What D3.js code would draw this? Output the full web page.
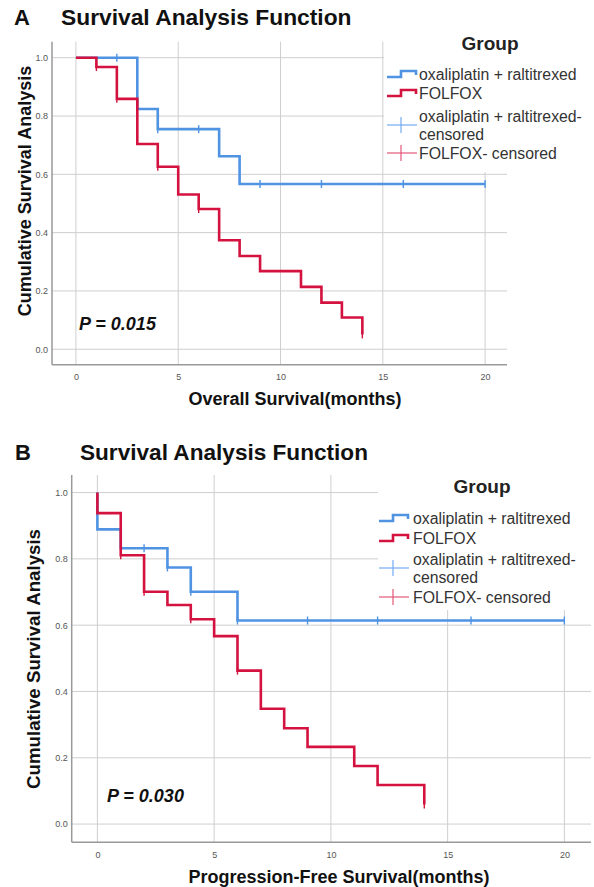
<!DOCTYPE html>
<html><head><meta charset="utf-8">
<script src="https://cdn.jsdelivr.net/npm/d3@7"></script>
<style>
html,body{margin:0;padding:0;background:#fff;}
svg{display:block;font-family:"Liberation Sans",Arial,Helvetica,sans-serif;}
</style></head>
<body>
<svg id="chart" width="594" height="887"></svg>
<script>
// ---------- data ----------
const monthTicks = [0, 5, 10, 15, 20];
const survTicks = [0.0, 0.2, 0.4, 0.6, 0.8, 1.0];
const groupNames = ["oxaliplatin + raltitrexed", "FOLFOX"];
const censorNames = ["oxaliplatin + raltitrexed-", "censored", "FOLFOX- censored"];

// Panel A: Overall survival
const osBlueTimes = [0, 3, 4, 7, 8];
const osBlueSurv  = [1.0, 0.824, 0.755, 0.662, 0.567];
const osBlueEnd = 20;
const osBlueCensor = [2, 3, 4, 6, 9, 12, 16, 20];
const osRedTimes = [0, 1, 2, 3, 4, 5, 6, 7, 8, 9, 11, 12, 13, 14];
const osRedSurv  = [1.0, 0.968, 0.859, 0.704, 0.626, 0.531, 0.481, 0.374, 0.320, 0.268, 0.214, 0.160, 0.109, 0.051];
const osRedEnd = 14;
const osRedCensor = [1, 2, 4, 6, 14];

// Panel B: Progression-free survival
const pfsBlueTimes = [0, 1, 3, 4, 6];
const pfsBlueSurv  = [0.889, 0.832, 0.774, 0.701, 0.614];
const pfsBlueEnd = 20;
const pfsBlueCensor = [2, 3, 4, 6, 9, 12, 16, 20];
const pfsRedTimes = [0, 1, 2, 3, 4, 5, 6, 7, 8, 9, 11, 12, 14];
const pfsRedSurv  = [0.938, 0.811, 0.701, 0.661, 0.618, 0.567, 0.463, 0.348, 0.289, 0.233, 0.175, 0.118, 0.059];
const pfsRedEnd = 14;
const pfsRedCensor = [1, 2, 4, 6, 14];

const BLUE = "#4f93e2", RED = "#d3123f";
const BLUE_L = "#72aaf0", RED_L = "#e2587a";

const svg = d3.select("#chart");

function stepVal(times, surv, t){
  let v = 1.0;
  for (let i = 0; i < times.length; i++) if (times[i] <= t) v = surv[i];
  return v;
}

function panel(cfg){
  const g = svg.append("g");
  const x = d3.scaleLinear().domain(cfg.xDom).range(cfg.xRange);
  const y = d3.scaleLinear().domain(cfg.yDom).range(cfg.yRange);
  const [x0, x1] = cfg.xRange, [yb, yt] = cfg.yRange;

  // gridlines
  g.append("g").selectAll("line").data(survTicks).join("line")
    .attr("x1", x0).attr("x2", x1).attr("y1", d => y(d)).attr("y2", d => y(d))
    .attr("stroke", "#cfcfcf").attr("stroke-width", 1);
  g.append("g").selectAll("line").data(monthTicks).join("line")
    .attr("x1", d => x(d)).attr("x2", d => x(d)).attr("y1", yt).attr("y2", yb)
    .attr("stroke", "#cfcfcf").attr("stroke-width", 1);

  // legend background (covers gridlines)
  g.append("rect").attr("x", cfg.legBox[0]).attr("y", cfg.legBox[1])
    .attr("width", cfg.legBox[2]).attr("height", cfg.legBox[3]).attr("fill", "#fff");

  // axes
  const ax = g.append("g").attr("transform", `translate(0,${yb})`)
    .call(d3.axisBottom(x).tickValues(monthTicks).tickSize(0).tickPadding(9).tickFormat(d3.format("d")));
  ax.select(".domain").remove();
  const ay = g.append("g").attr("transform", `translate(${x0},0)`)
    .call(d3.axisLeft(y).tickValues(survTicks).tickSize(0).tickPadding(4).tickFormat(d3.format(".1f")));
  ay.select(".domain").remove();
  g.selectAll(".tick text").attr("fill", "#555").attr("font-size", 9)
    .attr("font-family", "Liberation Sans, Arial, sans-serif");
  g.append("line").attr("x1", x0).attr("x2", x0).attr("y1", yt).attr("y2", yb)
    .attr("stroke", "#999").attr("stroke-width", 1.5);
  g.append("line").attr("x1", x0).attr("x2", x1).attr("y1", yb).attr("y2", yb)
    .attr("stroke", "#999").attr("stroke-width", 1.5);

  // curves
  function curve(times, surv, end, censor, color){
    const pts = [[0, 1.0]];
    times.forEach((t, i) => { pts.push([t, pts[pts.length-1][1]]); pts.push([t, surv[i]]); });
    pts.push([end, surv[surv.length-1]]);
    g.append("path").attr("d", d3.line().x(d => x(d[0])).y(d => y(d[1]))(pts))
      .attr("fill", "none").attr("stroke", color).attr("stroke-width", 2.6)
      .attr("stroke-linejoin", "miter");
    g.append("g").selectAll("line").data(censor).join("line")
      .attr("x1", d => x(d)).attr("x2", d => x(d))
      .attr("y1", d => y(stepVal(times, surv, d)) - 4).attr("y2", d => y(stepVal(times, surv, d)) + 4)
      .attr("stroke", color).attr("stroke-width", 1.4);
  }
  curve(cfg.blue[0], cfg.blue[1], cfg.blue[2], cfg.blue[3], BLUE);
  curve(cfg.red[0], cfg.red[1], cfg.red[2], cfg.red[3], RED);

  // titles
  g.append("text").attr("x", cfg.letterX).attr("y", cfg.titleY).text(cfg.letter)
    .attr("font-weight", "bold").attr("font-size", 22).attr("fill", "#111");
  g.append("text").attr("x", cfg.titleX).attr("y", cfg.titleY).text("Survival Analysis Function")
    .attr("font-weight", "bold").attr("font-size", cfg.titleSize).attr("fill", "#111");
  g.append("text").attr("x", cfg.xTitle[0]).attr("y", cfg.xTitle[1]).text(cfg.xLabel)
    .attr("text-anchor", "middle").attr("font-weight", "bold").attr("font-size", 18).attr("fill", "#111");
  g.append("text").attr("transform", `translate(${cfg.yTitle[0]},${cfg.yTitle[1]}) rotate(-90)`)
    .text("Cumulative Survival Analysis").attr("text-anchor", "middle")
    .attr("font-weight", "bold").attr("font-size", cfg.yTitleSize).attr("fill", "#111");
  g.append("text").attr("x", cfg.pPos[0]).attr("y", cfg.pPos[1]).text(cfg.pText)
    .attr("font-weight", "bold").attr("font-style", "italic").attr("font-size", 18).attr("fill", "#111");

  // legend
  const L = cfg.leg;
  g.append("text").attr("x", L.groupX).attr("y", L.groupY).text("Group")
    .attr("text-anchor", "middle").attr("font-weight", "bold").attr("font-size", 19).attr("fill", "#222");
  const ix = L.iconX, iw = 30, tx = L.textX, fs = 15.8;
  [[BLUE, L.rows[0]], [RED, L.rows[1]]].forEach(([c, cy], i) => {
    g.append("path").attr("d", `M${ix},${cy+3}H${ix+14}V${cy-3}H${ix+iw-1}V${cy+1}`)
      .attr("fill", "none").attr("stroke", c).attr("stroke-width", 2.6);
    g.append("text").attr("x", tx).attr("y", cy + 6).text(groupNames[i])
      .attr("font-size", fs).attr("fill", "#333");
  });
  [[BLUE_L, L.cross[0]], [RED_L, L.cross[1]]].forEach(([c, cy]) => {
    g.append("line").attr("x1", ix).attr("x2", ix + iw).attr("y1", cy).attr("y2", cy)
      .attr("stroke", c).attr("stroke-width", 1.2);
    g.append("line").attr("x1", ix + 14).attr("x2", ix + 14).attr("y1", cy - 8).attr("y2", cy + 8)
      .attr("stroke", c).attr("stroke-width", 1.2);
  });
  g.append("text").attr("x", tx).attr("y", L.rows[2] + 6).text(censorNames[0]).attr("font-size", fs).attr("fill", "#333");
  g.append("text").attr("x", tx).attr("y", L.rows[3] + 6).text(censorNames[1]).attr("font-size", fs).attr("fill", "#333");
  g.append("text").attr("x", tx).attr("y", L.rows[4] + 6).text(censorNames[2]).attr("font-size", fs).attr("fill", "#333");
}

panel({
  xDom: [-1.17, 21.07], xRange: [52, 507],
  yDom: [-0.053, 1.055], yRange: [364.7, 41.7],
  blue: [osBlueTimes, osBlueSurv, osBlueEnd, osBlueCensor],
  red: [osRedTimes, osRedSurv, osRedEnd, osRedCensor],
  letter: "A", letterX: 14, titleX: 61, titleY: 25, titleSize: 22.8,
  xLabel: "Overall Survival(months)", xTitle: [295, 405],
  yTitle: [31, 191], yTitleSize: 18,
  pText: "P = 0.015", pPos: [79, 330],
  legBox: [384, 28, 210, 144],
  leg: { groupX: 490, groupY: 50, iconX: 387, textX: 419, rows: [74, 93, 116, 134, 153], cross: [125, 153] }
});

panel({
  xDom: [-1.1, 21.14], xRange: [71.7, 591],
  yDom: [-0.055, 1.053], yRange: [842.3, 475],
  blue: [pfsBlueTimes, pfsBlueSurv, pfsBlueEnd, pfsBlueCensor],
  red: [pfsRedTimes, pfsRedSurv, pfsRedEnd, pfsRedCensor],
  letter: "B", letterX: 15, titleX: 80, titleY: 460, titleSize: 22.6,
  xLabel: "Progression-Free Survival(months)", xTitle: [339, 883],
  yTitle: [40, 659], yTitleSize: 18.7,
  pText: "P = 0.030", pPos: [107, 802],
  legBox: [378, 470, 216, 140],
  leg: { groupX: 482, groupY: 493, iconX: 379, textX: 413, rows: [518, 538, 559, 577, 597], cross: [568, 597] }
});
</script>
</body></html>
